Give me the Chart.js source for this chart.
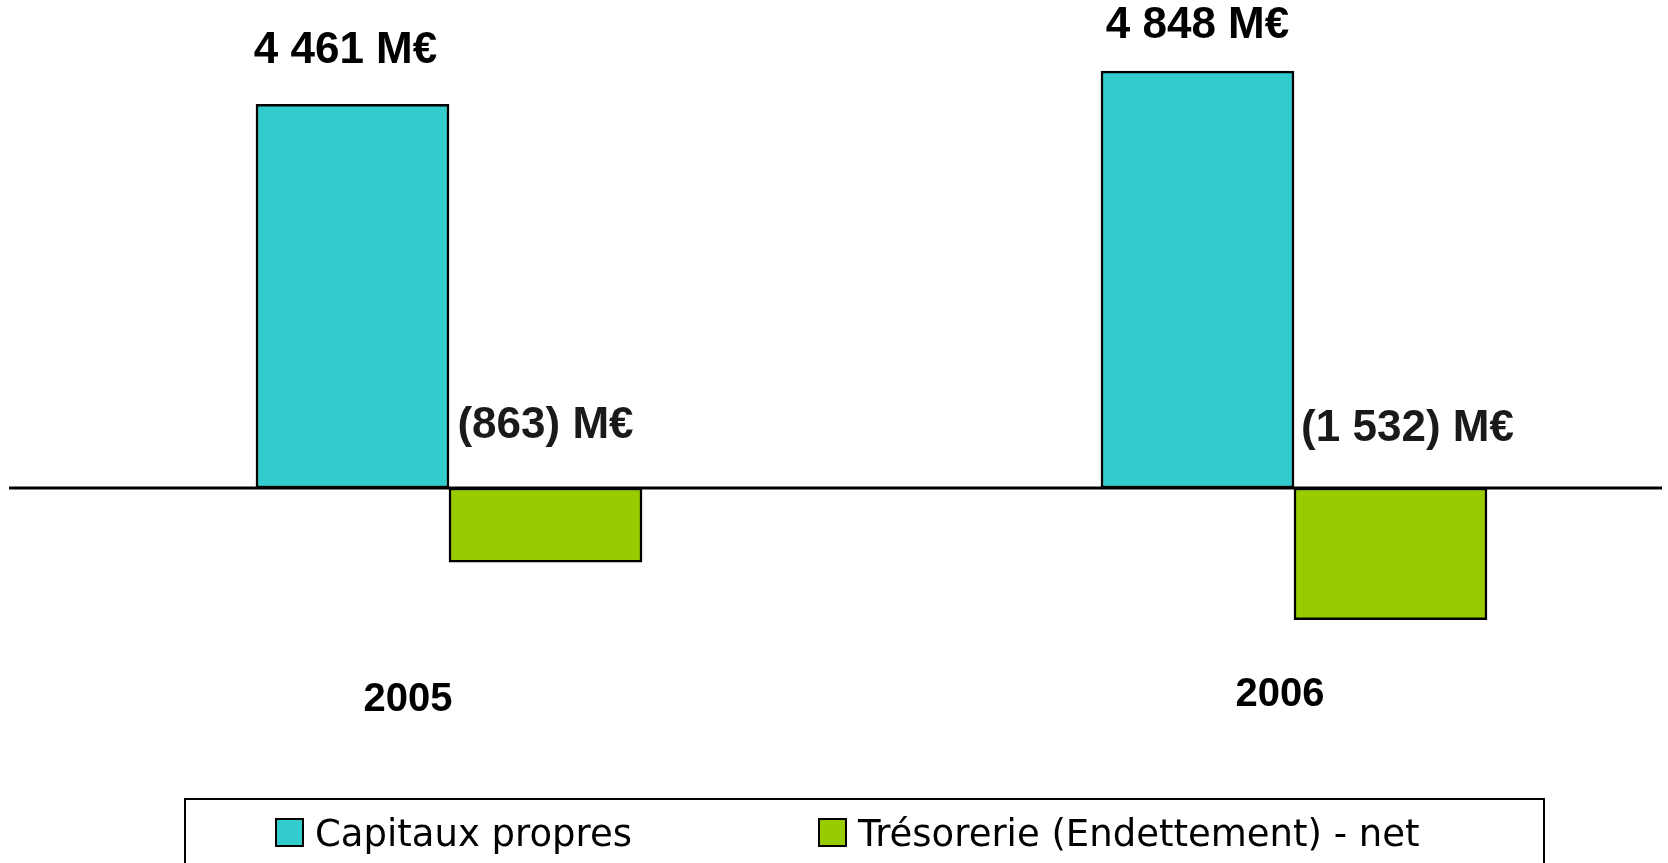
<!DOCTYPE html>
<html>
<head>
<meta charset="utf-8">
<script src="https://cdn.jsdelivr.net/npm/chart.js@4/dist/chart.umd.min.js"></script>
<style>
  html, body { margin: 0; padding: 0; background: #fff; }
  #wrap { width: 1668px; height: 863px; }
</style>
</head>
<body>
<div id="wrap"><canvas id="chart" width="1668" height="863"></canvas></div>
<script>
// Données (M€)
const annees = [2005, 2006];
const capitauxPropres = [4461, 4848];
const tresorerieNette = [-863, -1532];
const nomsSeries = ["Capitaux propres", "Trésorerie (Endettement) - net"];

// petits décalages des étiquettes, comme sur l'original
const decalCapitaux = [[-7, -4], [0, 4]];
const decalTresorerie = [[0, 0], [17, 3]];
const decalAnnees = [[-41, 3], [-14, -2]];

function formatMontant(v) {
  const s = Math.abs(v).toString().replace(/\B(?=(\d{3})+(?!\d))/g, " ");
  return (v < 0 ? "(" + s + ")" : s) + " M€";
}

// Étiquettes, ligne du zéro, années et légende encadrée
const plugDessin = {
  id: "dessin",
  afterDatasetsDraw(chart) {
    const ctx = chart.ctx;
    const y = chart.scales.y;
    const x = chart.scales.x;
    const y0 = y.getPixelForValue(0);

    ctx.save();
    ctx.strokeStyle = "#000";
    ctx.lineWidth = 3;
    ctx.beginPath();
    ctx.moveTo(chart.chartArea.left, y0);
    ctx.lineTo(chart.chartArea.right, y0);
    ctx.stroke();

    ctx.font = "bold 44px 'Liberation Sans', Arial, sans-serif";
    ctx.textAlign = "center";
    ctx.textBaseline = "alphabetic";
    chart.getDatasetMeta(0).data.forEach((bar, i) => {
      ctx.fillStyle = "#000";
      ctx.fillText(formatMontant(capitauxPropres[i]), bar.x + decalCapitaux[i][0], bar.y - 37 + decalCapitaux[i][1]);
    });
    chart.getDatasetMeta(1).data.forEach((bar, i) => {
      ctx.fillStyle = "#1a1a1a";
      ctx.fillText(formatMontant(tresorerieNette[i]), bar.x + decalTresorerie[i][0], y0 - 50 + decalTresorerie[i][1]);
    });

    ctx.font = "bold 40px 'Liberation Sans', Arial, sans-serif";
    ctx.fillStyle = "#000";
    annees.forEach((a, i) => {
      ctx.fillText(String(a), x.getPixelForValue(a) + decalAnnees[i][0], 708 + decalAnnees[i][1]);
    });

    // légende
    ctx.lineWidth = 2;
    ctx.strokeRect(185, 799, 1359, 80);
    const posX = [276, 819];
    ctx.font = "37px 'DejaVu Sans', Verdana, sans-serif";
    ctx.textAlign = "left";
    chart.data.datasets.forEach((ds, i) => {
      ctx.fillStyle = ds.backgroundColor;
      ctx.fillRect(posX[i], 819, 27, 27);
      ctx.strokeStyle = "#000";
      ctx.strokeRect(posX[i], 819, 27, 27);
      ctx.fillStyle = "#000";
      ctx.fillText(ds.label, posX[i] + 39, 846);
    });
    ctx.restore();
  }
};

new Chart(document.getElementById("chart"), {
  type: "bar",
  data: {
    labels: annees,
    datasets: [
      {
        label: nomsSeries[0],
        data: capitauxPropres,
        backgroundColor: "#33CCCC",
        borderColor: "#000",
        borderWidth: 2.5,
        borderSkipped: false
      },
      {
        label: nomsSeries[1],
        data: tresorerieNette,
        backgroundColor: "#99CC00",
        borderColor: "#000",
        borderWidth: 2.5,
        borderSkipped: false
      }
    ]
  },
  options: {
    responsive: false,
    animation: false,
    barThickness: 193,
    layout: { padding: { left: 9, right: 6, top: 0, bottom: 163 } },
    scales: {
      // axe linéaire pour placer les groupes comme sur l'original
      x: { type: "linear", display: false, offset: false, min: 2004.4793, max: 2006.4355 },
      y: { display: false, min: -2465.1, max: 5674.4 }
    },
    plugins: {
      legend: { display: false },
      tooltip: { enabled: false }
    }
  },
  plugins: [plugDessin]
});
</script>
</body>
</html>
